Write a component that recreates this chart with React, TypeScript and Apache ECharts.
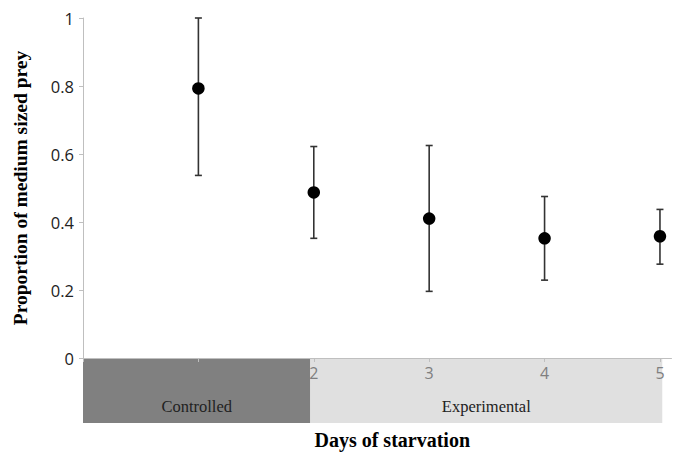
import React, { useEffect, useRef } from "react";
import * as echarts from "echarts";

const days = [1, 2, 3, 4, 5];
const means = [0.793, 0.487, 0.41, 0.352, 0.358];
const lows = [0.537, 0.352, 0.196, 0.229, 0.276];
const highs = [1.0, 0.622, 0.625, 0.475, 0.437];
const xTickValues = [0, 1, 2, 3, 4, 5];
const xLabelValues = [2, 3, 4, 5];
const groups = [
  { name: "Controlled", from: 0, to: 1.97, color: "#808080" },
  { name: "Experimental", from: 1.97, to: 5.02, color: "#e0e0e0" },
];

export default function App() {
  const ref = useRef<HTMLDivElement>(null);
  useEffect(() => {
    if (!ref.current) return;
    const chart = echarts.init(ref.current, undefined, { renderer: "svg" });
    const serif = "Liberation Serif";
    const sans = "Open Sans";
    chart.setOption({
      animation: false,
      backgroundColor: "#ffffff",
      grid: { left: 83, right: 7.5, top: 18, bottom: 96 },
      xAxis: {
        type: "value",
        min: 0,
        max: 5.1,
        interval: 1,
        z: 10,
        name: "Days of starvation",
        nameLocation: "middle",
        nameGap: 72,
        nameTextStyle: {
          fontFamily: serif,
          fontWeight: "bold",
          fontSize: 20,
          color: "#000",
          padding: [0, 0, 0, 30],
        },
        splitLine: { show: false },
        axisLine: { lineStyle: { color: "#bfbfbf", width: 1 } },
        axisTick: {
          show: true,
          length: 4,
          customValues: xTickValues,
          lineStyle: { color: "#bfbfbf" },
        },
        axisLabel: {
          customValues: xLabelValues,
          color: "#7f7f7f",
          fontFamily: sans,
          fontSize: 16,
          margin: 7,
        },
      },
      yAxis: {
        type: "value",
        min: 0,
        max: 1,
        interval: 0.2,
        z: 10,
        name: "Proportion of medium sized prey",
        nameLocation: "middle",
        nameGap: 53,
        nameTextStyle: {
          fontFamily: serif,
          fontWeight: "bold",
          fontSize: 19.5,
          color: "#000",
        },
        splitLine: { show: false },
        axisLine: { show: true, lineStyle: { color: "#bfbfbf", width: 1 } },
        axisTick: { show: true, length: 4, lineStyle: { color: "#bfbfbf" } },
        axisLabel: {
          color: "#222",
          fontFamily: sans,
          fontSize: 16.5,
          margin: 9,
        },
      },
      series: [
        {
          type: "custom",
          z: 6,
          data: days.map((d, i) => [d, lows[i], highs[i]]),
          renderItem: (params: any, api: any) => {
            const x = api.value(0);
            const lo = api.coord([x, api.value(1)]);
            const hi = api.coord([x, api.value(2)]);
            const cap = 3.5;
            const style = { stroke: "#333", lineWidth: 1.6 };
            return {
              type: "group",
              children: [
                { type: "line", shape: { x1: lo[0], y1: lo[1], x2: hi[0], y2: hi[1] }, style },
                { type: "line", shape: { x1: lo[0] - cap, y1: lo[1], x2: lo[0] + cap, y2: lo[1] }, style },
                { type: "line", shape: { x1: hi[0] - cap, y1: hi[1], x2: hi[0] + cap, y2: hi[1] }, style },
              ],
            };
          },
        },
        {
          type: "scatter",
          z: 7,
          symbol: "circle",
          symbolSize: 12.5,
          itemStyle: { color: "#000", opacity: 1 },
          data: days.map((d, i) => [d, means[i]]),
        },
      ],
    });

    const graphics: any[] = [];
    groups.forEach((g) => {
      const p0 = chart.convertToPixel({ gridIndex: 0 }, [g.from, 0]) as number[];
      const p1 = chart.convertToPixel({ gridIndex: 0 }, [g.to, 0]) as number[];
      const h = 65;
      graphics.push({
        type: "rect",
        z: -1,
        shape: { x: p0[0], y: p0[1], width: p1[0] - p0[0], height: h },
        style: { fill: g.color },
      });
      graphics.push({
        type: "text",
        z: 0,
        x: (p0[0] + p1[0]) / 2,
        y: p0[1] + 48,
        style: {
          text: g.name,
          fill: "#222",
          fontFamily: serif,
          fontSize: 16.5,
          align: "center",
          verticalAlign: "middle",
        },
      });
    });
    chart.setOption({ graphic: graphics });

    return () => chart.dispose();
  }, []);
  return (
    <div
      ref={ref}
      style={{ position: "fixed", left: 0, top: 0, width: 679, height: 455 }}
    />
  );
}
